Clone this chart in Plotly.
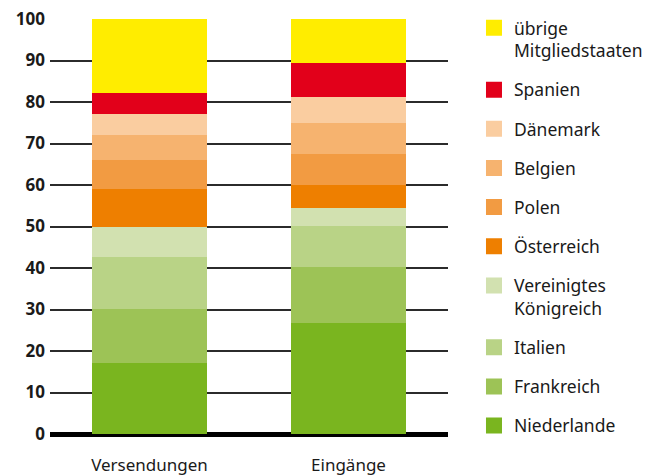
import plotly.graph_objects as go

categories = ["Versendungen", "Eingänge"]
series_names = ["Niederlande", "Frankreich", "Italien", "Vereinigtes<br>Königreich",
                "Österreich", "Polen", "Belgien", "Dänemark", "Spanien",
                "übrige<br>Mitgliedstaaten"]
versendungen = [17.1, 13.0, 12.6, 7.2, 9.1, 7.0, 6.0, 5.1, 5.1, 17.8]
eingaenge = [26.7, 13.5, 9.9, 4.4, 5.5, 7.5, 7.4, 6.3, 8.2, 10.6]
colors = ["#7AB51F", "#9DC356", "#B9D386", "#D2E1B0", "#EE7F00",
          "#F29B42", "#F6B36F", "#FACDA0", "#E2001A", "#FFED00"]
y_ticks = [0, 10, 20, 30, 40, 50, 60, 70, 80, 90, 100]

FONT = "Noto Sans"
TXT = "#1a1a1a"

fig = go.Figure()
for i, name in enumerate(series_names):
    fig.add_trace(go.Bar(
        x=categories, y=[versendungen[i], eingaenge[i]],
        marker=dict(color=colors[i], line=dict(width=0)),
        name=name, showlegend=False, hoverinfo="skip",
    ))
for i in reversed(range(len(series_names))):
    fig.add_trace(go.Scatter(
        x=[None], y=[None], mode="markers",
        marker=dict(symbol="square", size=16, color=colors[i]),
        name=series_names[i], legendgroup=f"g{i}", showlegend=True,
    ))

fig.update_layout(
    barmode="stack",
    bargap=0.427,
    width=653, height=476,
    margin=dict(l=50, r=205, t=19, b=42, autoexpand=False),
    paper_bgcolor="white", plot_bgcolor="white",
    font=dict(family=FONT, size=17, color=TXT),
    legend=dict(
        x=1.0653, xanchor="left", y=1.022, yanchor="top",
        traceorder="grouped", tracegroupgap=13.4,
        valign="top", font=dict(size=17.5, color=TXT, family=FONT),
        bgcolor="rgba(0,0,0,0)", borderwidth=0, maxheight=476,
    ),
    xaxis=dict(
        type="category", range=[-0.5, 1.5], showgrid=False, showline=False,
        ticks="", tickfont=dict(size=17, family=FONT, color=TXT),
        ticklabelstandoff=19,
    ),
    yaxis=dict(
        range=[0, 100], tickvals=y_ticks, ticktext=[str(v) for v in y_ticks],
        showgrid=True, gridcolor="#2b2b2b", gridwidth=1.5,
        zeroline=True, zerolinecolor="#000000", zerolinewidth=4.5,
        showline=False, ticks="", ticklabeloverflow="allow",
        tickfont=dict(size=17, family=FONT, color=TXT, weight="bold"),
        ticklabelstandoff=4,
    ),
)

fig.write_html("out.html", config={"displayModeBar": False},
               post_script="document.body.style.margin='0px';")
